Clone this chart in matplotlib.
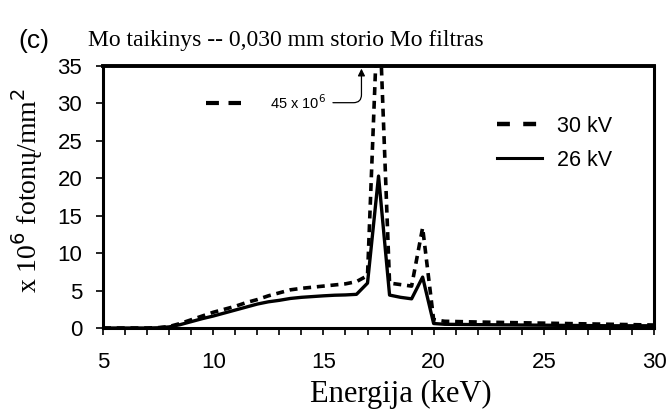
import matplotlib
matplotlib.use("Agg")
import matplotlib.pyplot as plt
from matplotlib.lines import Line2D
from matplotlib.ticker import MultipleLocator

# photon spectra, Mo target with 0.030 mm Mo filter (x 10^6 photons / mm^2)
energy = [5, 6, 7, 7.5, 8, 8.5, 9, 9.5, 10, 10.5, 11, 11.5, 12, 12.5, 13, 13.5,
          14, 14.5, 15, 15.5, 16, 16.5, 17, 17.5, 18, 18.5, 19, 19.5, 20,
          20.5, 22, 24, 26, 28, 30]
kv30 = [0, 0, 0, 0.05, 0.2, 0.6, 1.1, 1.6, 2.1, 2.5, 2.9, 3.4, 3.8, 4.3, 4.7, 5.1,
        5.3, 5.45, 5.6, 5.75, 5.9, 6.2, 7.0, 45.0, 6.0, 5.8, 5.6, 13.4, 1.1,
        0.9, 0.8, 0.7, 0.6, 0.5, 0.4]
kv26 = [0, 0, 0, 0.03, 0.15, 0.45, 0.85, 1.25, 1.6, 2.0, 2.4, 2.8, 3.2, 3.5, 3.7, 3.95,
        4.1, 4.2, 4.3, 4.38, 4.42, 4.5, 6.0, 20.3, 4.4, 4.1, 3.9, 6.8, 0.6,
        0.5, 0.45, 0.4, 0.35, 0.3, 0.3]
series_names = ["30 kV", "26 kV"]
peak_note = "45 x 10$^6$"

serif = "Liberation Serif"
sans = "Liberation Sans"

fig = plt.figure(figsize=(6.72, 4.09), dpi=100)
ax = fig.add_axes([0.1533, 0.198, 0.82, 0.6406])

ax.plot(energy, kv30, color="k", lw=2.6, dashes=(2.2, 1.6))
ax.plot(energy, kv26, color="k", lw=2.4)

ax.set_xlim(5, 30)
ax.set_ylim(0, 35)
ax.xaxis.set_major_locator(MultipleLocator(5))
ax.xaxis.set_minor_locator(MultipleLocator(1))
ax.yaxis.set_major_locator(MultipleLocator(5))
ax.tick_params(axis="both", which="both", direction="out", length=5,
               width=1.2, labelsize=16)
ax.tick_params(axis="x", pad=12)
ax.tick_params(axis="y", pad=10)
ax.tick_params(right=False, top=False)
for lab in ax.get_xticklabels() + ax.get_yticklabels():
    lab.set_fontfamily(sans)

for side in ["left", "bottom", "right"]:
    ax.spines[side].set_linewidth(2.2)
ax.spines["top"].set_linewidth(2.8)

# legend
handles = [Line2D([], [], color="k", lw=3.2, dashes=(2.9, 3.0)),
           Line2D([], [], color="k", lw=2.2)]
ax.legend(handles, series_names, loc="upper left",
          bbox_to_anchor=(0.715, 0.81), frameon=False, borderpad=0,
          borderaxespad=0, handlelength=2.1, handletextpad=0.7,
          labelspacing=0.6, prop={"family": sans, "size": 15.5})

# key for the clipped 30 kV peak
ax.plot([0.186, 0.251], [0.86, 0.86], transform=ax.transAxes, color="k",
        lw=3, dashes=(3.1, 2.3))
ax.annotate(peak_note, xy=(0.469, 0.99), xycoords="axes fraction",
            xytext=(0.303, 0.86), textcoords="axes fraction",
            fontsize=10.5, family=sans, va="center",
            arrowprops=dict(arrowstyle="-|>", color="k", lw=0.9,
                            shrinkA=3, shrinkB=0,
                            connectionstyle="angle,angleA=0,angleB=90,rad=8"))

fig.text(0.597, 0.017, "Energija (keV)", family=serif, fontsize=22,
         ha="center", va="baseline")
fig.text(0.04, 0.535, "x 10$^6$ fotonų/mm$^2$", family=serif, fontsize=20,
         rotation=90, ha="center", va="center")

fig.text(0.028, 0.9, "(c)", family=sans, fontsize=19, va="center")
fig.text(0.131, 0.9, "Mo taikinys -- 0,030 mm storio Mo filtras",
         family=serif, fontsize=17, va="center")

fig.savefig("out.png", dpi=100)
